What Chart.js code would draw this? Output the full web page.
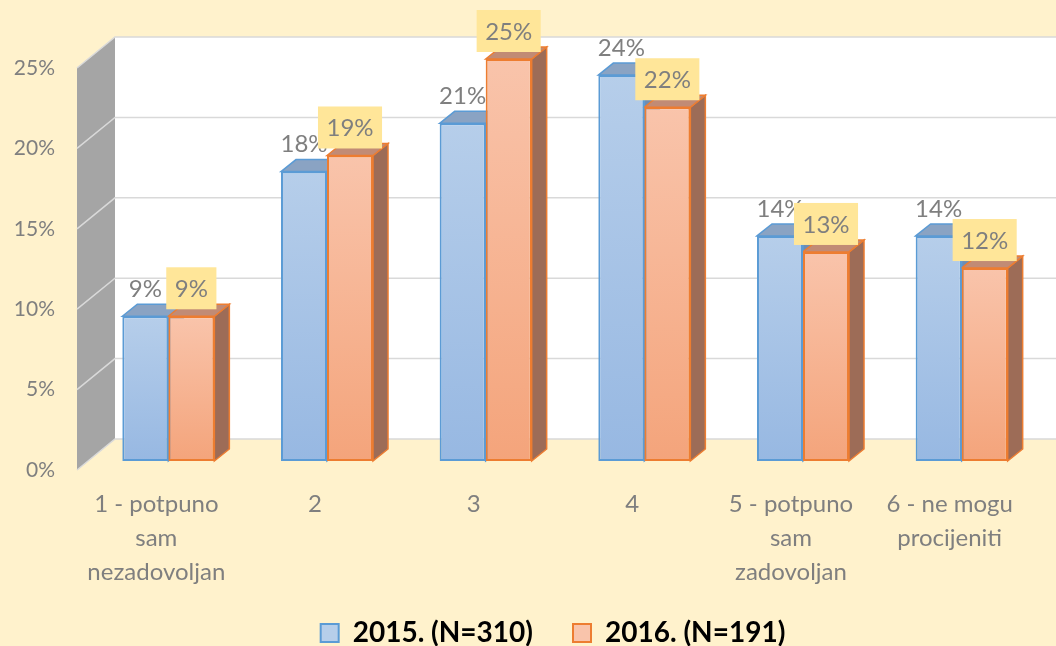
<!DOCTYPE html>
<html>
<head>
<meta charset="utf-8">
<script src="https://cdn.jsdelivr.net/npm/chart.js@4.4.1/dist/chart.umd.min.js"></script>
<style>
  html, body { margin: 0; padding: 0; background: #fff2cc; }
  #wrap { width: 1056px; height: 646px; position: relative; }
</style>
</head>
<body>
<div id="wrap"><canvas id="chart"></canvas></div>
<script>
// data
const CATEGORIES = [
  ["1 - potpuno", "sam", "nezadovoljan"],
  "2",
  "3",
  "4",
  ["5 - potpuno", "sam", "zadovoljan"],
  ["6 - ne mogu", "procijeniti"],
];
const SERIES_NAMES = ["2015. (N=310)", "2016. (N=191)"];
const VALUES_2015 = [0.09, 0.18, 0.21, 0.24, 0.14, 0.14];
const VALUES_2016 = [0.09, 0.19, 0.25, 0.22, 0.13, 0.12];
const Y_MAX = 0.25;
const Y_STEP = 0.05;

// colours
const TEXT = "#7f7f7f";
const FRONT = [["#b6ceea", "#97b8e2"], ["#f9c4ab", "#f4a47b"]];
const BORDER = ["#5b9bd5", "#ed7d31"];
const TOP = ["#8aa3c3", "#c18b75"];
const SIDE = ["#6e8cb2", "#9d6c57"];
const LABEL_BOX = "#ffe699";

// 3d offsets (pixels)
const BAR_DEPTH = { dx: 15, dy: -12 };
const WALL_BACK = { dx: 26, dy: -22 };
const WALL_FRONT = { dx: -12, dy: 9 };

const FONT = "Lato";
Chart.defaults.font.family = FONT;
Chart.defaults.color = TEXT;

function frontFill(colors) {
  return (c) => {
    const chart = c.chart;
    if (!chart.chartArea || c.dataIndex === undefined) return colors[1];
    const y = chart.scales.y;
    const top = y.getPixelForValue(c.raw);
    const bottom = y.getPixelForValue(0);
    const g = chart.ctx.createLinearGradient(0, top, 0, bottom);
    g.addColorStop(0, colors[0]);
    g.addColorStop(1, colors[1]);
    return g;
  };
}

function poly(ctx, pts, fill, stroke) {
  ctx.beginPath();
  ctx.moveTo(pts[0][0], pts[0][1]);
  for (let i = 1; i < pts.length; i++) ctx.lineTo(pts[i][0], pts[i][1]);
  ctx.closePath();
  if (fill) { ctx.fillStyle = fill; ctx.fill(); }
  if (stroke) { ctx.strokeStyle = stroke; ctx.lineWidth = 1.5; ctx.stroke(); }
}

const threeD = {
  id: "threeD",
  afterLayout(chart) {
    // let the 3-line category labels hang over the legend box (no clipping)
    chart.scales.x.bottom += 24;
  },
  beforeDatasetsDraw(chart) {
    const { ctx, chartArea: a, scales } = chart;
    const y = scales.y;
    const xBack = a.left + WALL_BACK.dx;
    const xFront = a.left + WALL_FRONT.dx;
    const yb = (v) => y.getPixelForValue(v) + WALL_BACK.dy;
    const yf = (v) => y.getPixelForValue(v) + WALL_FRONT.dy;
    ctx.save();
    // back wall
    ctx.fillStyle = "#ffffff";
    ctx.fillRect(xBack, yb(Y_MAX), chart.width - xBack, yb(0) - yb(Y_MAX));
    // side wall
    poly(ctx, [[xFront, yf(Y_MAX)], [xBack, yb(Y_MAX)], [xBack, yb(0)], [xFront, yf(0)]], "#a5a5a5");
    // gridlines
    ctx.strokeStyle = "#d9d9d9";
    ctx.lineWidth = 1.5;
    y.ticks.forEach((t) => {
      ctx.beginPath();
      ctx.moveTo(xFront, yf(t.value));
      ctx.lineTo(xBack, yb(t.value));
      ctx.lineTo(chart.width, yb(t.value));
      ctx.stroke();
    });
    // tick labels
    ctx.fillStyle = TEXT;
    ctx.font = "21px " + FONT;
    ctx.textAlign = "right";
    ctx.textBaseline = "middle";
    y.ticks.forEach((t) => {
      ctx.fillText(Math.round(t.value * 100) + "%", xFront - 22, yf(t.value));
    });
    // top and side faces of the bars
    chart.data.datasets.forEach((ds, di) => {
      const meta = chart.getDatasetMeta(di);
      meta.data.forEach((bar) => {
        const l = bar.x - bar.width / 2, r = bar.x + bar.width / 2;
        const t = bar.y, b = bar.base;
        const dx = BAR_DEPTH.dx, dy = BAR_DEPTH.dy;
        poly(ctx, [[r, t], [r + dx, t + dy], [r + dx, b + dy], [r, b]], SIDE[di], BORDER[di]);
        poly(ctx, [[l, t], [l + dx, t + dy], [r + dx, t + dy], [r, t]], TOP[di], BORDER[di]);
      });
    });
    ctx.restore();
  },
  afterDatasetsDraw(chart) {
    const { ctx } = chart;
    ctx.save();
    ctx.font = "24px " + FONT;
    ctx.textAlign = "center";
    ctx.textBaseline = "middle";
    chart.data.datasets.forEach((ds, di) => {
      const meta = chart.getDatasetMeta(di);
      meta.data.forEach((bar, i) => {
        const txt = Math.round(ds.data[i] * 100) + "%";
        const cy = bar.y - 28;
        if (di === 1) {
          const w = ctx.measureText(txt).width + 17;
          ctx.fillStyle = LABEL_BOX;
          ctx.fillRect(bar.x - w / 2, cy - 21, w, 42);
        }
        ctx.fillStyle = TEXT;
        ctx.fillText(txt, bar.x, cy + 1);
      });
    });
    ctx.restore();
  },
};

new Chart(document.getElementById("chart"), {
  type: "bar",
  data: {
    labels: CATEGORIES,
    datasets: [
      {
        label: SERIES_NAMES[0],
        data: VALUES_2015,
        backgroundColor: frontFill(FRONT[0]),
        borderColor: BORDER[0],
        borderWidth: 2,
        borderSkipped: false,
      },
      {
        label: SERIES_NAMES[1],
        data: VALUES_2016,
        backgroundColor: frontFill(FRONT[1]),
        borderColor: BORDER[1],
        borderWidth: 2,
        borderSkipped: false,
      },
    ],
  },
  options: {
    responsive: true,
    maintainAspectRatio: false,
    animation: false,
    categoryPercentage: 0.58,
    barPercentage: 1,
    layout: { padding: { top: 59, left: 65, right: 15, bottom: -11 } },
    plugins: {
      tooltip: { enabled: false },
      legend: {
        position: "bottom",
        labels: {
          color: TEXT,
          font: { size: 28, weight: "bold" },
          boxWidth: 18,
          boxHeight: 18,
          padding: 40,
          generateLabels: () =>
            SERIES_NAMES.map((name, i) => ({
              text: name,
              fillStyle: FRONT[i][0],
              strokeStyle: BORDER[i],
              lineWidth: 2,
              hidden: false,
              datasetIndex: i,
            })),
        },
      },
    },
    scales: {
      x: {
        grid: { display: false, drawTicks: false },
        border: { display: false },
        ticks: {
          autoSkip: false,
          maxRotation: 0,
          padding: 26,
          labelOffset: -12,
          color: TEXT,
          font: { size: 24, lineHeight: 1.42 },
        },
        afterFit: (s) => { s.height = 118; },
      },
      y: {
        min: 0,
        max: Y_MAX,
        grid: { display: false },
        border: { display: false },
        ticks: { display: false, stepSize: Y_STEP },
        afterFit: (s) => { s.width = 24; },
      },
    },
  },
  plugins: [threeD],
});
</script>
</body>
</html>
